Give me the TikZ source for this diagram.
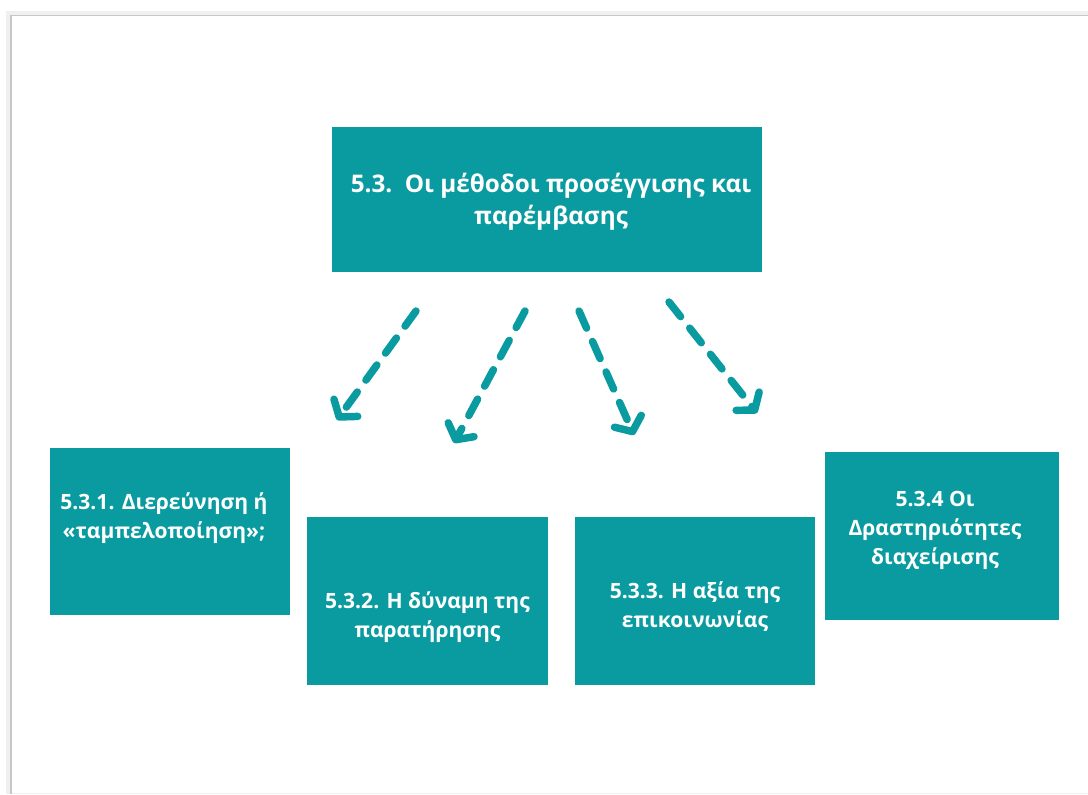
\documentclass[tikz,border=0pt]{standalone}
\usepackage{fontspec}
\setmainfont{Open Sans}
\usetikzlibrary{arrows.meta}
\definecolor{tealbox}{HTML}{0A9BA0}
\begin{document}
\begin{tikzpicture}[x=0.75pt,y=-0.75pt,
  box/.style={fill=tealbox, draw=none, inner sep=0pt},
  boxtext/.style={text=white, font=\bfseries\fontsize{15.8}{21.8}\selectfont, align=center, inner sep=0pt},
  toptext/.style={text=white, font=\bfseries\fontsize{18.2}{24}\selectfont, align=center, inner sep=0pt},
  darrow/.style={draw=tealbox, line width=5.6pt, line cap=round, line join=round,
    dash pattern=on 14pt off 11pt,
    -{Straight Barb[length=8.5pt,width=22pt,round]}}]
\useasboundingbox (0,0) rectangle (1088,794);
\fill[white] (0,0) rectangle (1088,794);
% frame
\draw[black!6, line width=3pt] (8,794) -- (8,13) -- (1088,13);
\draw[black!22, line width=1.4pt] (11,794) -- (11,15.5) -- (1088,15.5);
\draw[black!6, line width=1pt] (12,793.5) -- (1088,793.5);

% boxes
\node[box, minimum width=430*0.75pt, minimum height=145*0.75pt,
  label={[toptext, xshift=3pt, yshift=-1.9pt]center:5.3.~~Οι μέθοδοι προσέγγισης και\\παρέμβασης}]
  (top) at (547,199.5) {};
\node[box, minimum width=240*0.75pt, minimum height=167*0.75pt,
  label={[boxtext, xshift=-4.5pt, yshift=10pt]center:5.3.1. Διερεύνηση ή\\«ταμπελοποίηση»;}]
  (b1) at (170,531.5) {};
\node[box, minimum width=241*0.75pt, minimum height=168*0.75pt,
  label={[boxtext, yshift=-12pt]center:5.3.2. Η δύναμη της\\παρατήρησης}]
  (b2) at (427.5,601) {};
\node[box, minimum width=240*0.75pt, minimum height=168*0.75pt,
  label={[boxtext, yshift=-4.5pt]center:5.3.3. Η αξία της\\επικοινωνίας}]
  (b3) at (695,601) {};
\node[box, minimum width=234*0.75pt, minimum height=168*0.75pt,
  label={[boxtext, xshift=-5.25pt, yshift=4.5pt]center:5.3.4 Οι\\Δραστηριότητες\\διαχείρισης}]
  (b4) at (942,536) {};

% arrow end points
\coordinate (s1) at (416,311);
\coordinate (e1) at (337,420);
\coordinate (s2) at (525,311);
\coordinate (e2) at (454,443);
\coordinate (s3) at (579,311);
\coordinate (e3) at (634,435);
\coordinate (s4) at (669,302);
\coordinate (e4) at (757,413);

\draw[darrow] (s1) -- (e1);
\draw[darrow] (s2) -- (e2);
\draw[darrow] (s3) -- (e3);
\draw[darrow] (s4) -- (e4);
\end{tikzpicture}
\end{document}
